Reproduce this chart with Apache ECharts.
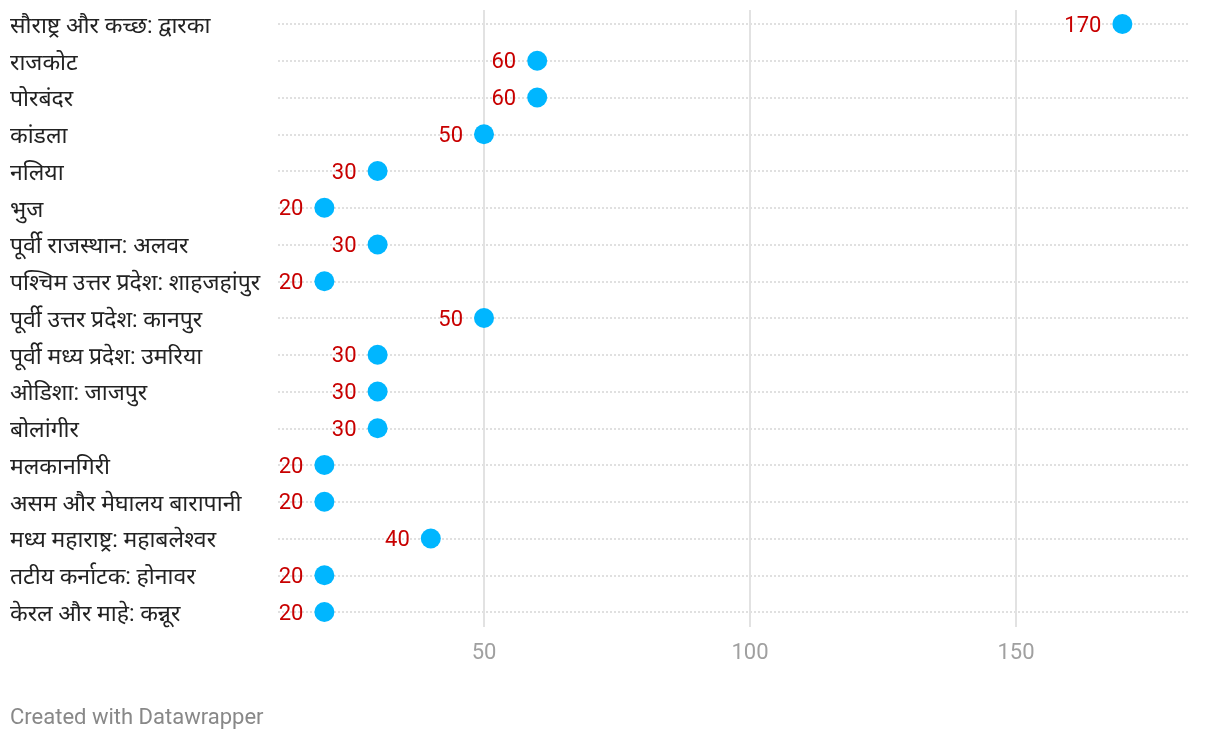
<!DOCTYPE html>
<html>
<head>
<meta charset="utf-8">
<script src="https://cdn.jsdelivr.net/npm/echarts@6/dist/echarts.min.js"></script>
<style>
html,body{margin:0;padding:0;background:#fff;}
#chart{width:1220px;height:740px;}
</style>
</head>
<body>
<div id="chart"></div>
<script>
const categories = [
  "सौराष्ट्र और कच्छ: द्वारका",
  "राजकोट",
  "पोरबंदर",
  "कांडला",
  "नलिया",
  "भुज",
  "पूर्वी राजस्थान: अलवर",
  "पश्चिम उत्तर प्रदेश: शाहजहांपुर",
  "पूर्वी उत्तर प्रदेश: कानपुर",
  "पूर्वी मध्य प्रदेश: उमरिया",
  "ओडिशा: जाजपुर",
  "बोलांगीर",
  "मलकानगिरी",
  "असम और मेघालय बारापानी",
  "मध्य महाराष्ट्र: महाबलेश्वर",
  "तटीय कर्नाटक: होनावर",
  "केरल और माहे: कन्नूर"
];
const values = [170, 60, 60, 50, 30, 20, 30, 20, 50, 30, 30, 30, 20, 20, 40, 20, 20];
const tickValues = [50, 100, 150];
const xMin = 11.28, xMax = 182.33;

const FONT = "Roboto, 'Noto Sans', sans-serif";
const chart = echarts.init(document.getElementById('chart'), null, {renderer: 'canvas'});
chart.setOption({
  animation: false,
  backgroundColor: '#fff',
  textStyle: {fontFamily: FONT},
  grid: [
    {left: 278, right: 32, top: 10, bottom: 113},
    {left: 278, right: 32, top: 24, bottom: 128}
  ],
  xAxis: [
    {
      type: 'value', gridIndex: 0, min: xMin, max: xMax,
      axisLine: {show: false}, axisTick: {show: false}, splitLine: {show: false},
      axisLabel: {customValues: tickValues, color: '#a0a0a0', fontSize: 22, margin: 15, fontFamily: FONT}
    },
    {
      type: 'value', gridIndex: 1, min: xMin, max: xMax, show: false,
      splitLine: {show: false}
    }
  ],
  yAxis: [
    {type: 'value', gridIndex: 0, min: 0, max: 1, show: false, splitLine: {show: false}},
    {
      type: 'category', gridIndex: 1, data: categories, inverse: true, boundaryGap: false,
      axisLine: {show: false}, axisTick: {show: false},
      axisLabel: {
        align: 'left', margin: 268, color: '#222', fontSize: 23, fontFamily: FONT,
        formatter: v => '{a|' + v + '}',
        rich: {a: {color: '#222', fontSize: 23, fontFamily: FONT, padding: [6, 0, 0, 0]}}
      },
      splitLine: {show: true, lineStyle: {color: '#d6d6d6', width: 1.5, type: [2, 2]}}
    }
  ],
  graphic: [
    {type: 'text', left: 10, top: 707, style: {text: 'Created with Datawrapper', fill: '#888', fontSize: 22, fontFamily: FONT}}
  ],
  series: [
    {
      type: 'scatter', xAxisIndex: 0, yAxisIndex: 0, data: [], silent: true, z: 1,
      markLine: {
        silent: true, symbol: 'none', animation: false,
        label: {show: false},
        lineStyle: {color: '#e2e2e2', width: 2, type: 'solid'},
        data: tickValues.map(v => ({xAxis: v}))
      }
    },
    {
      type: 'scatter', xAxisIndex: 1, yAxisIndex: 1, z: 5,
      symbolSize: 20,
      itemStyle: {color: '#00b6ff', opacity: 1},
      data: values.map((v, i) => [v, categories[i]]),
      label: {show: true, position: 'left', distance: 11, color: '#c80000', fontSize: 22, fontFamily: FONT,
        offset: [0, 2], formatter: p => p.value[0]}
    }
  ]
});
</script>
</body>
</html>
